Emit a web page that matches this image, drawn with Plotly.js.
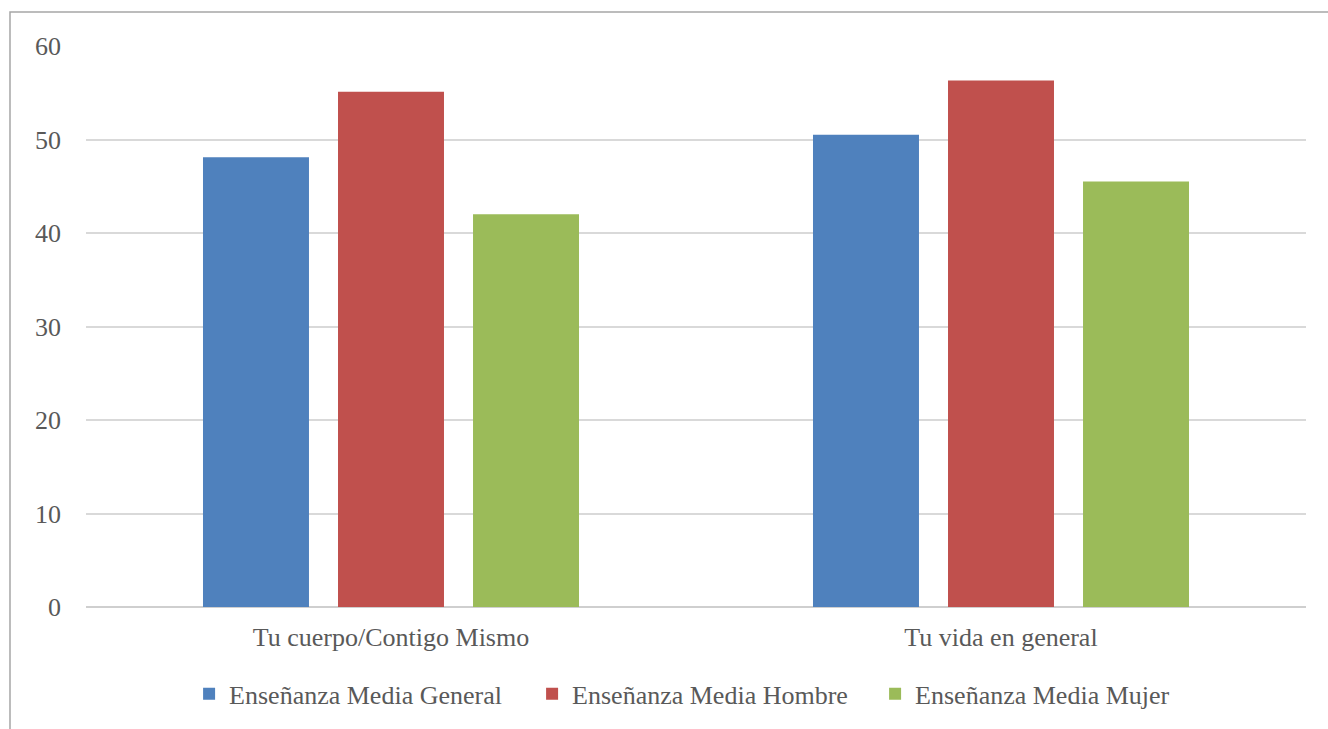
<!DOCTYPE html>
<html>
<head>
<meta charset="utf-8">
<script src="https://cdn.plot.ly/plotly-3.0.1.min.js"></script>
<style>html,body{margin:0;padding:0;background:#fff;}#chart{width:1328px;height:729px;}</style>
</head>
<body>
<div id="chart"></div>
<script>
const categories = ["Tu cuerpo/Contigo Mismo", "Tu vida en general"];
const seriesNames = ["Enseñanza Media General", "Enseñanza Media Hombre", "Enseñanza Media Mujer"];
const generalValues = [48.1, 50.5];
const hombreValues = [55.1, 56.3];
const mujerValues = [42.0, 45.5];
const colors = ["#4F81BD", "#C0504D", "#9BBB59"];

const fontFam = "Liberation Serif, serif";
const seriesValues = [generalValues, hombreValues, mujerValues];
const traces = seriesNames.map((n, i) => ({
  type: "bar", name: n, x: categories, y: seriesValues[i],
  marker: {color: colors[i]}, hoverinfo: "x+y"
}));

const layout = {
  width: 1328, height: 729,
  margin: {l: 86, r: 22, t: 46, b: 122},
  paper_bgcolor: "#fff", plot_bgcolor: "#fff",
  barmode: "group", bargap: 0.336, bargroupgap: 0.215,
  font: {family: fontFam, color: "#595959", size: 26},
  xaxis: {showgrid: false, showline: false, ticks: "", tickfont: {size: 26, color: "#595959"}, ticklabelstandoff: 12, automargin: false},
  yaxis: {range: [0, 60], dtick: 10, showgrid: true, gridcolor: "#d9d9d9", gridwidth: 2,
          zeroline: true, zerolinecolor: "#cfcfcf", zerolinewidth: 2.5, automargin: false,
          showline: false, ticks: "", tickfont: {size: 26, color: "#595959"}, ticklabelstandoff: 24},
  showlegend: true,
  legend: {orientation: "h", x: 0.0845, xanchor: "left", y: -0.155, yanchor: "middle",
           font: {size: 26, color: "#595959"}, entrywidth: 298, entrywidthmode: "pixels", traceorder: "normal"},
  shapes: [{type: "rect", xref: "paper", yref: "paper", x0: -0.0623, x1: 1.05, y0: -0.3, y1: 1.0606,
            line: {color: "#a6a6a6", width: 1.5}, fillcolor: "rgba(0,0,0,0)", layer: "below"}]
};
Plotly.newPlot("chart", traces, layout, {displayModeBar: false, staticPlot: true});
</script>
</body>
</html>
